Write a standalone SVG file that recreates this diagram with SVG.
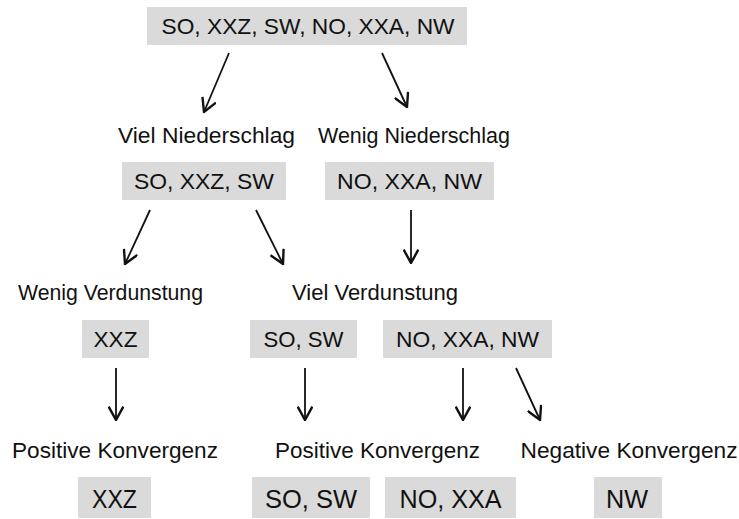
<svg xmlns="http://www.w3.org/2000/svg" width="739" height="519" viewBox="0 0 739 519">
  <style>
    .box { fill: #dadada; }
    .t { font-family: "Liberation Sans", Arial, sans-serif; font-size: 22.5px; fill: #111; text-anchor: middle; }
    .b { font-size: 25px; }
    .conn line { stroke: #111; stroke-width: 1.8; marker-end: url(#head); }
  </style>
  <defs>
    <marker id="head" markerUnits="userSpaceOnUse" markerWidth="16" markerHeight="16" refX="11" refY="6" orient="auto" viewBox="0 0 12 12">
      <path d="M1,0.5 L11,6 L1,11.5" fill="none" stroke="#111" stroke-width="1.8"/>
    </marker>
  </defs>
  <rect width="739" height="519" fill="#fff"/>

  <!-- root set -->
  <g id="root">
    <rect class="box" x="147" y="7" width="320" height="38"/>
    <text class="t" x="308" y="34" textLength="293" lengthAdjust="spacingAndGlyphs">SO, XXZ, SW, NO, XXA, NW</text>
  </g>

  <!-- precipitation split -->
  <g id="viel-niederschlag">
    <text class="t" x="206.5" y="143" textLength="177" lengthAdjust="spacingAndGlyphs">Viel Niederschlag</text>
    <rect class="box" x="122" y="162" width="164" height="38"/>
    <text class="t" x="204" y="189" textLength="140" lengthAdjust="spacingAndGlyphs">SO, XXZ, SW</text>
  </g>
  <g id="wenig-niederschlag">
    <text class="t" x="414" y="143" textLength="192" lengthAdjust="spacingAndGlyphs">Wenig Niederschlag</text>
    <rect class="box" x="325" y="162" width="169" height="38"/>
    <text class="t" x="409.5" y="189" textLength="145" lengthAdjust="spacingAndGlyphs">NO, XXA, NW</text>
  </g>

  <!-- evaporation split -->
  <g id="wenig-verdunstung">
    <text class="t" x="110.5" y="300" textLength="185" lengthAdjust="spacingAndGlyphs">Wenig Verdunstung</text>
    <rect class="box" x="82" y="320" width="67" height="38"/>
    <text class="t" x="115.5" y="347" textLength="44" lengthAdjust="spacingAndGlyphs">XXZ</text>
  </g>
  <g id="viel-verdunstung">
    <text class="t" x="375" y="300" textLength="166" lengthAdjust="spacingAndGlyphs">Viel Verdunstung</text>
    <rect class="box" x="250" y="320" width="107" height="38"/>
    <text class="t" x="303.5" y="347" textLength="80" lengthAdjust="spacingAndGlyphs">SO, SW</text>
    <rect class="box" x="383" y="320" width="169" height="38"/>
    <text class="t" x="467.5" y="347" textLength="143" lengthAdjust="spacingAndGlyphs">NO, XXA, NW</text>
  </g>

  <!-- convergence outcomes -->
  <g id="positive-konvergenz-1">
    <text class="t" x="115" y="458" textLength="206" lengthAdjust="spacingAndGlyphs">Positive Konvergenz</text>
    <rect class="box" x="78" y="477" width="73" height="41"/>
    <text class="t b" x="114.5" y="508" textLength="45" lengthAdjust="spacingAndGlyphs">XXZ</text>
  </g>
  <g id="positive-konvergenz-2">
    <text class="t" x="377.5" y="458" textLength="205" lengthAdjust="spacingAndGlyphs">Positive Konvergenz</text>
    <rect class="box" x="252" y="477" width="118" height="41"/>
    <text class="t b" x="311" y="508" textLength="92" lengthAdjust="spacingAndGlyphs">SO, SW</text>
    <rect class="box" x="385" y="477" width="131" height="41"/>
    <text class="t b" x="450.5" y="508" textLength="102" lengthAdjust="spacingAndGlyphs">NO, XXA</text>
  </g>
  <g id="negative-konvergenz">
    <text class="t" x="629" y="458" textLength="217" lengthAdjust="spacingAndGlyphs">Negative Konvergenz</text>
    <rect class="box" x="594" y="477" width="68" height="41"/>
    <text class="t b" x="627" y="508" textLength="42" lengthAdjust="spacingAndGlyphs">NW</text>
  </g>

  <!-- connectors -->
  <g id="connectors" class="conn">
    <line x1="229" y1="53" x2="204" y2="112"/>
    <line x1="382" y1="53" x2="407" y2="107"/>
    <line x1="150" y1="210" x2="125" y2="264"/>
    <line x1="256" y1="210" x2="283" y2="264"/>
    <line x1="411" y1="210" x2="411" y2="263"/>
    <line x1="116" y1="368" x2="116" y2="420"/>
    <line x1="305" y1="368" x2="305" y2="420"/>
    <line x1="463" y1="368" x2="463" y2="420"/>
    <line x1="516" y1="368" x2="540" y2="420"/>
  </g>
</svg>
